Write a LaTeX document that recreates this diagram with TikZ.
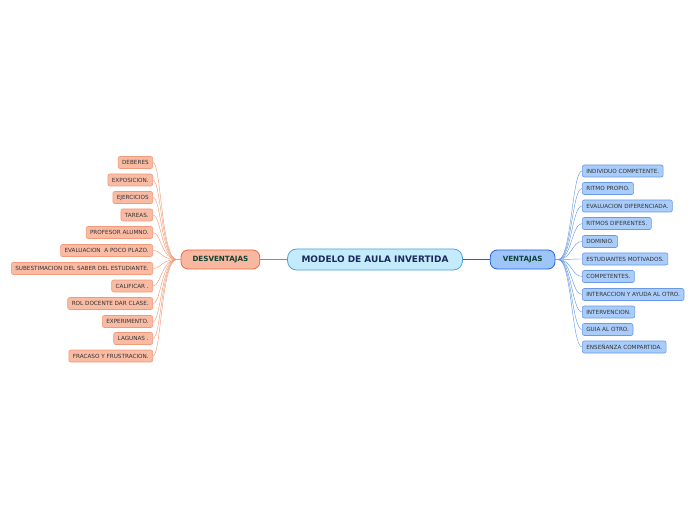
\documentclass[tikz,border=0pt]{standalone}
\usepackage{fontspec}
\setmainfont{DejaVu Sans}
\usetikzlibrary{positioning}

\definecolor{rootfill}{HTML}{C4EBFC}
\definecolor{rootline}{HTML}{4AA0DC}
\definecolor{roottext}{HTML}{1A2A5A}
\definecolor{desvfill}{HTML}{F8B7A0}
\definecolor{desvline}{HTML}{EF6A3A}
\definecolor{ventfill}{HTML}{9DC5FA}
\definecolor{ventline}{HTML}{2060D8}
\definecolor{branchtext}{HTML}{0F4232}
\definecolor{desvitemfill}{HTML}{F9BBA4}
\definecolor{desvitemline}{HTML}{F29A7A}
\definecolor{ventitemfill}{HTML}{A9CCFA}
\definecolor{ventitemline}{HTML}{6A9AE6}
\definecolor{itemtext}{HTML}{333333}

\begin{document}
\begin{tikzpicture}[
    x=1bp, y=-1bp,
    node distance=27bp,
    central/.style={
        draw=rootline,
        fill=rootfill,
        rounded corners=9bp,
        minimum height=21bp,
        inner xsep=14bp,
        text=roottext,
        font=\fontsize{9}{10}\selectfont\bfseries,
        line width=0.8pt
    },
    desv/.style={
        draw=desvline,
        fill=desvfill,
        rounded corners=7bp,
        minimum height=19bp,
        inner xsep=11.5bp,
        text=branchtext,
        font=\fontsize{7.2}{8}\selectfont\bfseries,
        line width=0.8pt
    },
    vent/.style={
        desv,
        draw=ventline,
        fill=ventfill,
        inner xsep=12.5bp
    },
    desvitem/.style={
        draw=desvitemline,
        fill=desvitemfill,
        rounded corners=2bp,
        minimum height=12bp,
        inner xsep=4bp,
        inner ysep=1bp,
        text=itemtext,
        font=\fontsize{5.7}{6}\selectfont,
        line width=0.6pt,
        anchor=east
    },
    ventitem/.style={
        desvitem,
        draw=ventitemline,
        fill=ventitemfill,
        anchor=west
    },
    desvlink/.style={
        draw=desvitemline,
        line width=0.45pt
    },
    ventlink/.style={
        draw=ventitemline,
        line width=0.45pt
    }
]

\useasboundingbox (0,0) rectangle (696,520);

\node[central] (modelo) at (375,259.5) {MODELO DE AULA INVERTIDA};

\node[desv, left=of modelo] (desventajas) {DESVENTAJAS};

\node[vent, right=of modelo] (ventajas) {VENTAJAS};

% desventajas
\node[desvitem] (d1) at (153,162.5) {DEBERES};
\node[desvitem] (d2) at (153,180) {EXPOSICION.};
\node[desvitem] (d3) at (153,197.5) {EJERCICIOS};
\node[desvitem] (d4) at (153,215) {TAREAS.};
\node[desvitem] (d5) at (153,232.5) {PROFESOR ALUMNO.};
\node[desvitem] (d6) at (153,250.5) {EVALUACION\ \ A POCO PLAZO.};
\node[desvitem] (d7) at (153,268.5) {SUBESTIMACION DEL SABER DEL ESTUDIANTE.};
\node[desvitem] (d8) at (153,286) {CALIFICAR .};
\node[desvitem] (d9) at (153,303.5) {ROL DOCENTE DAR CLASE.};
\node[desvitem] (d10) at (153,321.5) {EXPERIMENTO.};
\node[desvitem] (d11) at (153,338.5) {LAGUNAS .};
\node[desvitem] (d12) at (153,356) {FRACASO Y FRUSTRACION.};

% ventajas
\node[ventitem] (v1) at (582,171) {INDIVIDUO COMPETENTE.};
\node[ventitem] (v2) at (582,188.5) {RITMO PROPIO.};
\node[ventitem] (v3) at (582,206) {EVALUACION DIFERENCIADA.};
\node[ventitem] (v4) at (582,223.5) {RITMOS DIFERENTES.};
\node[ventitem] (v5) at (582,241.5) {DOMINIO.};
\node[ventitem] (v6) at (582,259) {ESTUDIANTES MOTIVADOS.};
\node[ventitem] (v7) at (582,276.5) {COMPETENTES.};
\node[ventitem] (v8) at (582,294.5) {INTERACCION Y AYUDA AL OTRO.};
\node[ventitem] (v9) at (582,312) {INTERVENCION.};
\node[ventitem] (v10) at (582,329.5) {GUIA AL OTRO.};
\node[ventitem] (v11) at (582,347) {ENSEÑANZA COMPARTIDA.};

\draw[desvline, line width=1pt] (modelo) -- (desventajas);
\draw[ventline, line width=1pt] (modelo) -- (ventajas);

\draw[desvlink] (desventajas.west) -- ++(-4,0) .. controls +(-15,0) and +(8,0) .. (d1.east);
\draw[desvlink] (desventajas.west) -- ++(-4,0) .. controls +(-15,0) and +(8,0) .. (d2.east);
\draw[desvlink] (desventajas.west) -- ++(-4,0) .. controls +(-15,0) and +(8,0) .. (d3.east);
\draw[desvlink] (desventajas.west) -- ++(-4,0) .. controls +(-15,0) and +(8,0) .. (d4.east);
\draw[desvlink] (desventajas.west) -- ++(-4,0) .. controls +(-15,0) and +(8,0) .. (d5.east);
\draw[desvlink] (desventajas.west) -- ++(-4,0) .. controls +(-15,0) and +(8,0) .. (d6.east);
\draw[desvlink] (desventajas.west) -- ++(-4,0) .. controls +(-15,0) and +(8,0) .. (d7.east);
\draw[desvlink] (desventajas.west) -- ++(-4,0) .. controls +(-15,0) and +(8,0) .. (d8.east);
\draw[desvlink] (desventajas.west) -- ++(-4,0) .. controls +(-15,0) and +(8,0) .. (d9.east);
\draw[desvlink] (desventajas.west) -- ++(-4,0) .. controls +(-15,0) and +(8,0) .. (d10.east);
\draw[desvlink] (desventajas.west) -- ++(-4,0) .. controls +(-15,0) and +(8,0) .. (d11.east);
\draw[desvlink] (desventajas.west) -- ++(-4,0) .. controls +(-15,0) and +(8,0) .. (d12.east);

\draw[ventlink] (ventajas.east) -- ++(3,0) .. controls +(13,0) and +(-10,0) .. (v1.west);
\draw[ventlink] (ventajas.east) -- ++(3,0) .. controls +(13,0) and +(-10,0) .. (v2.west);
\draw[ventlink] (ventajas.east) -- ++(3,0) .. controls +(13,0) and +(-10,0) .. (v3.west);
\draw[ventlink] (ventajas.east) -- ++(3,0) .. controls +(13,0) and +(-10,0) .. (v4.west);
\draw[ventlink] (ventajas.east) -- ++(3,0) .. controls +(13,0) and +(-10,0) .. (v5.west);
\draw[ventlink] (ventajas.east) -- ++(3,0) .. controls +(13,0) and +(-10,0) .. (v6.west);
\draw[ventlink] (ventajas.east) -- ++(3,0) .. controls +(13,0) and +(-10,0) .. (v7.west);
\draw[ventlink] (ventajas.east) -- ++(3,0) .. controls +(13,0) and +(-10,0) .. (v8.west);
\draw[ventlink] (ventajas.east) -- ++(3,0) .. controls +(13,0) and +(-10,0) .. (v9.west);
\draw[ventlink] (ventajas.east) -- ++(3,0) .. controls +(13,0) and +(-10,0) .. (v10.west);
\draw[ventlink] (ventajas.east) -- ++(3,0) .. controls +(13,0) and +(-10,0) .. (v11.west);

\end{tikzpicture}
\end{document}
